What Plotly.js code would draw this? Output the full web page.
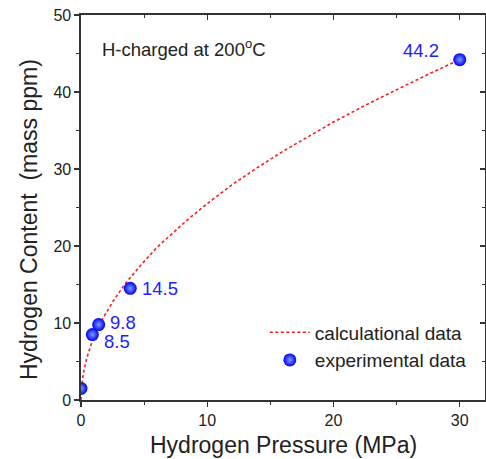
<!DOCTYPE html>
<html><head><meta charset="utf-8">
<script src="https://cdn.plot.ly/plotly-3.0.1.min.js"></script>
<style>html,body{margin:0;padding:0;background:#fff}#g{width:486px;height:459px}</style>
</head><body><div id="g"></div>
<script>
// calculated curve
const calcP = [0, 0.05, 0.2, 0.45, 0.8, 1.24, 1.8, 2.57, 3.5, 4.68, 6, 7.06, 8.5, 10, 12, 14, 15.8, 18, 20, 22.9, 25, 27.5, 30];
const calcH = [0, 1.8, 3.6, 5.4, 7.2, 9.0, 10.8, 12.9, 15.1, 17.4, 19.8, 21.4, 23.5, 25.5, 28.0, 30.2, 32.1, 34.2, 36.1, 38.6, 40.3, 42.3, 44.2];
// experimental data
const expP = [0, 0.9, 1.4, 3.9, 30];
const expH = [1.5, 8.5, 9.8, 14.5, 44.2];
const expLabels = ["", "8.5", "9.8", "14.5", "44.2"];

const axisColor = '#333';
const FF = 'Liberation Sans, Arial, sans-serif';
const txt = '#222';

const traces = [
  {x: calcP, y: calcH, mode: 'lines', name: 'calculational data',
   line: {color: '#ff1a1a', width: 1.6, dash: '3px,2.5px'}},
  {x: expP, y: expH, mode: 'markers', name: 'experimental data',
   marker: {color: '#0000f0', size: 13, gradient: {type: 'radial', color: '#7f9cff'},
            line: {width: 0}}}
];

const labelOffsets = [null, [10, -7, 'left'], [9, 2, 'left'], [10, 0, 'left'], [-19, 9, 'right']];
const annotations = [];
expP.forEach((p, i) => {
  if (!expLabels[i]) return;
  const o = labelOffsets[i];
  annotations.push({x: p, y: expH[i], xref: 'x', yref: 'y', text: expLabels[i], showarrow: false,
    xanchor: o[2], yanchor: 'middle', xshift: o[0], yshift: o[1],
    font: {family: FF, size: 18.5, color: '#2222ff'}});
});
annotations.push({x: 0, y: 0.915, xref: 'paper', yref: 'paper', xanchor: 'left', yanchor: 'middle', xshift: 19,
  text: 'H-charged at 200<sup>o</sup>C', showarrow: false, font: {family: FF, size: 18.5, color: txt}});
// axis titles
annotations.push({x: 0.5, y: 0, xref: 'paper', yref: 'paper', xanchor: 'center', yanchor: 'middle', yshift: -45,
  text: 'Hydrogen Pressure (MPa)', showarrow: false, font: {family: FF, size: 23, color: txt}});
annotations.push({x: 0, y: 0.4675, xref: 'paper', yref: 'paper', xanchor: 'center', yanchor: 'middle', xshift: -52,
  textangle: -90, text: 'Hydrogen Content\u00a0 (mass ppm)', showarrow: false, font: {family: FF, size: 23, color: txt}});

const common = {showline: true, linecolor: axisColor, linewidth: 1.6, ticklen: 5, tickwidth: 1.4,
  tickcolor: axisColor, zeroline: false, showgrid: false};
const minorOut = {dtick: 5, ticks: 'outside', ticklen: 3, tickcolor: axisColor, tickwidth: 1.2};
const minorIn = {dtick: 5, ticks: 'inside', ticklen: 3, tickcolor: axisColor, tickwidth: 1.2};

const layout = {
  width: 486, height: 459,
  margin: {l: 81, r: 1, t: 15, b: 59},
  paper_bgcolor: '#fff', plot_bgcolor: '#fff',
  font: {family: FF, color: txt},
  showlegend: true,
  legend: {x: 0.455, y: 0.225, xanchor: 'left', yanchor: 'top', bgcolor: 'rgba(0,0,0,0)',
    font: {family: FF, size: 19, color: txt}, tracegroupgap: 0, itemwidth: 40},
  xaxis: Object.assign({}, common, {range: [0, 32], dtick: 10, ticks: 'outside',
    tickfont: {family: FF, size: 16, color: txt}, minor: minorOut}),
  yaxis: Object.assign({}, common, {range: [0, 50], dtick: 10, ticks: 'outside',
    tickfont: {family: FF, size: 16, color: txt}, minor: minorOut}),
  xaxis2: Object.assign({}, common, {range: [0, 32], dtick: 10, ticks: 'inside', side: 'top', overlaying: 'x',
    showticklabels: false, minor: minorIn}),
  yaxis2: Object.assign({}, common, {range: [0, 50], dtick: 10, ticks: 'inside', side: 'right', overlaying: 'y',
    showticklabels: false, minor: minorIn}),
  annotations: annotations
};
// invisible trace to show mirrored axes
traces.push({x: [0], y: [0], xaxis: 'x2', yaxis: 'y2', mode: 'markers', marker: {opacity: 0}, showlegend: false, hoverinfo: 'skip'});

Plotly.newPlot('g', traces, layout, {displayModeBar: false, staticPlot: true});
</script></body></html>
